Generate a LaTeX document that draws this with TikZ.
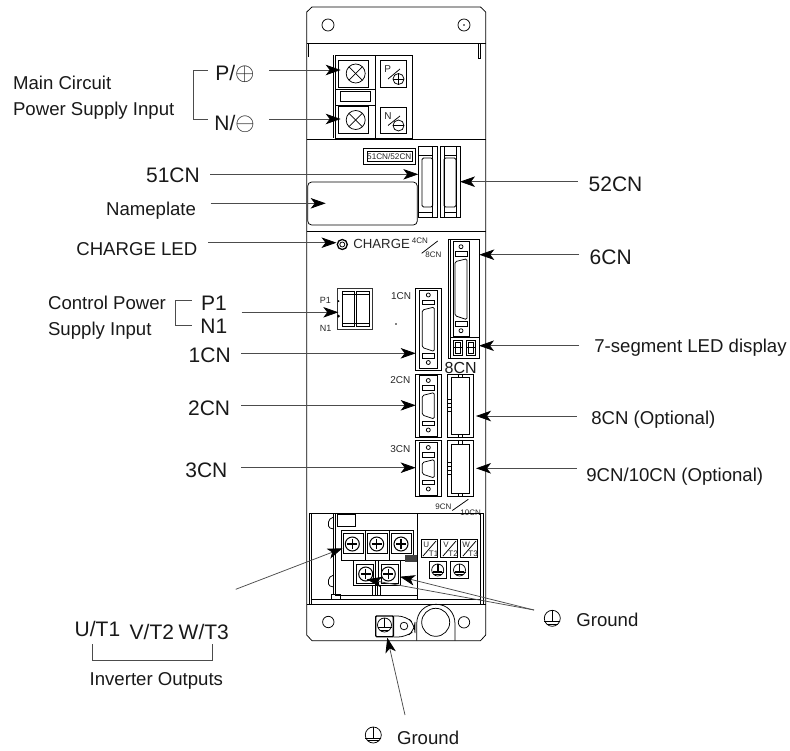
\documentclass[tikz,border=0pt]{standalone}
\usepackage{fontspec}
\setmainfont{Liberation Sans}
\usetikzlibrary{arrows.meta}

% x is the middle of the connector, #2 and #3 its top and bottom
\newcommand{\dsubconn}[3]{
	\draw ({#1},{#2+5}) circle[radius=2pt];
	\draw ({#1-6},{#2+10}) rectangle ({#1+6},{#2+14.5});
	\draw[rounded corners=1.5pt] ({#1-6},{#2+20}) -- ({#1+6},{#2+17}) -- ({#1+6},{#3-17}) -- ({#1-6},{#3-21}) -- cycle;
	\draw ({#1-6},{#3-15}) rectangle ({#1+6},{#3-10.5});
	\draw ({#1},{#3-6}) circle[radius=2pt];
}
\newcommand{\slotconn}[2]{
	\draw (447.7,#1) rectangle (473.3,#2);
	\draw (451.7,{#1+3.3}) rectangle (469.3,{#2-3.3});
	\draw (447.7,{(#1+#2)/2-6}) rectangle (451.7,{(#1+#2)/2+6});
	\draw (447.7,{(#1+#2)/2-2}) -- (451.7,{(#1+#2)/2-2});
	\draw (447.7,{(#1+#2)/2+2}) -- (451.7,{(#1+#2)/2+2});
	\draw (458.5,#1) rectangle (462.5,{#1+3.3});
	\draw (458.5,{#2-3.3}) rectangle (462.5,#2);
}
\newcommand{\screwx}[2]{
	\draw (#1,#2) circle[radius=9.5pt];
	\draw ({#1-6.6},{#2-6.6}) -- ({#1+6.6},{#2+6.6});
	\draw ({#1-6.6},{#2+6.6}) -- ({#1+6.6},{#2-6.6});
}
\newcommand{\screwplus}[2]{
	\draw[line width=1pt] (#1,#2) circle[radius=7pt];
	\draw[line width=1.3pt] ({#1-5},#2) -- ({#1+5},#2);
	\draw[line width=1.3pt] (#1,{#2-5}) -- (#1,{#2+5});
}
\newcommand{\groundmark}[3]{
	\draw (#1,#2) circle[radius=#3 pt];
	\draw (#1,{#2-#3}) -- (#1,{#2+0.4*#3});
	\draw ({#1-#3},{#2+0.4*#3}) -- ({#1+#3},{#2+0.4*#3});
	\draw ({#1-0.65*#3},{#2+0.7*#3}) -- ({#1+0.65*#3},{#2+0.7*#3});
}
\newcommand{\segdigit}[2]{
	\draw (#1,#2) rectangle ({#1+9},{#2+15});
	\draw (#1,{#2+7.5}) -- ({#1+9},{#2+7.5});
	\draw ({#1+2},{#2+2}) rectangle ({#1+7},{#2+13});
}

\begin{document}
\begin{tikzpicture}[x=1pt, y=-1pt, line width=0.75pt]

		\tikzstyle{edge} = [draw=black!70, -{Stealth[length=15pt, width=10.5pt, inset=4pt, black]}]
		\tikzstyle{wire} = [draw=black!70]
		\tikzstyle{lbl} = [inner sep=0, anchor=base west, text=black!90, font=\fontsize{18.6}{20}\selectfont]
		\tikzstyle{lbl_big} = [inner sep=0, anchor=base west, text=black!90, font=\fontsize{21}{23}\selectfont]
		\tikzstyle{lbl_mid} = [inner sep=0, anchor=base west, text=black!85, font=\fontsize{10}{11}\selectfont]
		\tikzstyle{lbl_tiny} = [inner sep=0, anchor=base west, text=black!85, font=\fontsize{8}{9}\selectfont]

		\useasboundingbox (0,0) rectangle (790,750);

		% housing
		\draw (306.7,12) -- (312,7) -- (480.5,7) -- (485.7,12) -- (485.7,635) -- (480.5,640.7) -- (312,640.7) -- (306.7,635) -- cycle;
		\draw (306.7,43) -- (485.7,43);
		\draw (306.7,139) -- (485.7,139);
		\draw (306.7,231.7) -- (485.7,231.7);
		\draw (306.7,604.3) -- (485.7,604.3);
		\draw (328,25) circle[radius=6pt];
		\draw (464,25) circle[radius=6pt];
		\fill (464,25) circle[radius=0.8pt];
		\draw (308.3,43) -- (308.3,57);
		\draw (478,43) rectangle (480.5,58);

		% main circuit terminals
		\draw (335,55) rectangle (412,138);
		\draw[line width=1.4pt] (333.7,55) -- (333.7,138);
		\draw (375,55) -- (375,138);
		\draw (338,60) rectangle (368,87);
		\draw (338,106.7) rectangle (368,133);
		\draw (335,89) -- (375,89);
		\draw (335,105) -- (375,105);
		\draw (340.7,91.7) rectangle (370.7,101.7);
		\screwx{355.7}{73.5}
		\screwx{355.7}{120}
		\draw (380.7,60) rectangle (406.7,87);
		\draw (380.7,107) rectangle (406.7,133);
		\node[lbl_mid](boxP) at (384,72){P};
		\node[lbl_mid](boxN) at (384,119){N};
		\draw (388,79) -- (400,69);
		\draw (388,125.5) -- (400,116);
		\node[circle, draw, inner sep=0, minimum size=11pt, path picture={\draw (path picture bounding box.west) -- (path picture bounding box.east); \draw (path picture bounding box.north) -- (path picture bounding box.south);}](boxPlus) at (398.5,79){};
		\node[circle, draw, inner sep=0, minimum size=11pt, path picture={\draw (path picture bounding box.west) -- (path picture bounding box.east);}](boxMinus) at (398.5,125.5){};

		% 51CN and 52CN
		\draw (363,148) rectangle (415,164.5);
		\draw (367,151) rectangle (412,161.5);
		\node[inner sep=0, text=black!85, font=\fontsize{8.2}{9}\selectfont](boxCn) at (389.3,156.3){51CN/52CN};
		\draw (418.3,146.7) rectangle (437.3,217);
		\draw (432.7,146.7) -- (432.7,217);
		\draw[rounded corners=1.5pt] (422,158) rectangle (432.7,207);
		\draw (418.3,155) -- (432.7,155);
		\draw (418.3,212) -- (432.7,212);
		\draw (440,146.7) rectangle (460,217);
		\draw (444,146.7) -- (444,217);
		\draw (456,146.7) -- (456,217);
		\draw[rounded corners=1.5pt] (444,158) rectangle (456,207);
		\draw (444,155) -- (456,155);
		\draw (444,212) -- (456,212);
		\draw[rounded corners=4pt] (307.7,182) rectangle (417.3,225);

		% charge led
		\draw[line width=1.3pt] (342.3,244.5) circle[radius=5pt];
		\draw (342.3,244.5) circle[radius=2.5pt];
		\node[inner sep=0, anchor=base west, text=black!85, font=\fontsize{13.2}{14}\selectfont](chargeTxt) at (353,248){CHARGE};
		\node[lbl_tiny](fourCn) at (411.5,243){4CN};
		\node[lbl_tiny](sixCn) at (425,257){8CN};
		\draw (421.7,253.3) -- (437.7,241);

		% 6CN and display
		\draw (448,239) rectangle (479,358);
		\draw (450,239) -- (450,358);
		\draw (453,241.7) rectangle (469,336.7);
		\dsubconn{461}{241.7}{336.7}
		\draw (450,337) -- (479,337);
		\segdigit{453.5}{340}
		\segdigit{466.5}{340}
		\node[inner sep=0, text=black!90, font=\fontsize{16}{17}\selectfont](bigCn) at (460.7,367.5){8CN};

		% control power terminal
		\draw[line width=1.3pt, draw=black!80] (337.7,288.3) rectangle (372.7,329.3);
		\draw (342.3,291) rectangle (354,326.7);
		\draw (356,291) rectangle (369,326.7);
		\draw (342.3,294) -- (369,294);
		\draw (342.3,323) -- (369,323);
		\node[lbl_mid, font=\fontsize{9}{10}\selectfont](smallP) at (319.5,303){P1};
		\node[lbl_mid, font=\fontsize{9}{10}\selectfont](smallN) at (319.5,331.5){N1};
		\fill (338.5,301) circle[radius=1pt];
		\fill (338.5,316) circle[radius=1.5pt];
		\fill (396,324) circle[radius=0.8pt];

		% 1CN 2CN 3CN
		\draw (415.7,288.3) rectangle (441.7,370);
		\draw (419.3,290) rectangle (437.7,368.5);
		\dsubconn{428.3}{290}{368.5}
		\node[lbl_mid](oneCn) at (390.7,299.5){1CN};
		\draw (415.7,374) rectangle (441.7,437.7);
		\draw (419.3,375.5) rectangle (437.7,436);
		\dsubconn{428.3}{375.5}{436}
		\node[lbl_mid](twoCn) at (390,383){2CN};
		\draw (415.7,440.7) rectangle (441.7,496.7);
		\draw (419.3,442.5) rectangle (437.7,495);
		\dsubconn{428.3}{442.5}{495}
		\node[lbl_mid](threeCn) at (390,452){3CN};

		% 8CN and 9CN slots
		\slotconn{374}{437.7}
		\slotconn{440.7}{496.7}
		\node[lbl_tiny](nineCn) at (435,509){9CN};
		\node[lbl_tiny](tenCn) at (460,515){10CN};
		\draw (452.3,510.5) -- (468.3,499.3);

		% inverter output section
		\draw (309,604.3) -- (309,513.3) -- (483.3,513.3) -- (483.3,604.3);
		\draw (311.7,513.3) -- (311.7,604.3);
		\draw (480.7,513.3) -- (480.7,604.3);
		\draw (417.7,513.3) -- (417.7,599);
		\draw (311.7,599.3) -- (480.7,599.3);
		\draw (335,595) -- (417.7,595);
		\draw (333.7,513.3) -- (333.7,595);
		\draw (335.5,513.3) -- (335.5,595);
		\draw (333.7,517) -- (330,519) -- (328.5,522) -- (328.5,526) -- (330,528) -- (333.7,529);
		\draw (333.7,575) -- (330,577) -- (328.5,580) -- (328.5,584) -- (330,586) -- (333.7,587);
		\draw (331.7,599.3) rectangle (340,594);
		\draw (337.7,514) rectangle (355,526.7);
		\draw (341.7,530) -- (413,530) -- (413,560) -- (341.7,560) -- cycle;
		\draw (343.3,533) rectangle (363.3,553.3);
		\draw (367.3,533) rectangle (387.3,553.3);
		\draw (391.7,533) rectangle (411.7,553.3);
		\draw (365.3,530) -- (365.3,560);
		\draw (389.5,530) -- (389.5,560);
		\screwplus{352.3}{544}
		\screwplus{376.7}{544}
		\screwplus{401}{544}
		\draw (353.3,560) rectangle (375,585);
		\draw (378.3,560) rectangle (400,585);
		\draw (356.5,564) rectangle (373,583);
		\draw (381,564) rectangle (398,583);
		\screwplus{365.7}{574}
		\screwplus{388.3}{574}
		\draw (372,585) rectangle (380,595);
		\draw (375,585) -- (375,595);
		\draw (377,585) -- (377,595);
		\fill[black!75] (405,555) rectangle (416.7,561.7);
		\draw (421,539.3) rectangle (437.7,557.3);
		\draw (440.7,539.3) rectangle (457.3,557.3);
		\draw (460.7,539.3) rectangle (477.3,557.3);
		\draw (423,556) -- (436,541);
		\draw (443,556) -- (456,541);
		\draw (463,556) -- (476,541);
		\node[lbl_tiny](boxU) at (423,547){U};
		\node[lbl_tiny](boxV) at (443,547){V};
		\node[lbl_tiny](boxW) at (462,547){W};
		\node[lbl_tiny](boxTa) at (428.5,556.5){T1};
		\node[lbl_tiny](boxTb) at (448,556.5){T2};
		\node[lbl_tiny](boxTc) at (468,556.5){T3};
		\draw (429.3,561.7) rectangle (446,578.3);
		\draw (450.7,561.7) rectangle (468.3,578.3);
		\groundmark{437.7}{570}{6}
		\groundmark{459.5}{570}{6}
		\draw[line width=1.6pt] (437.7,564) -- (437.7,572);
		\draw[line width=1.6pt] (433,572) -- (442.4,572);
		\draw[line width=1.6pt] (459.5,564) -- (459.5,572);
		\draw[line width=1.6pt] (454.8,572) -- (464.2,572);

		% bottom plate
		\draw (328.3,622) circle[radius=5.7pt];
		\draw (464,622.3) circle[radius=5.7pt];
		\draw (416.7,640.7) -- (416.7,624) .. controls (416.7,612) and (425,604.3) .. (436,604.3) .. controls (447,604.3) and (455,612) .. (455,624) -- (455,640.7);
		\draw (435.7,622.3) circle[radius=14pt];
		\draw[rounded corners=8pt] (393.3,616) -- (406,616) -- (415,625) -- (415,630) -- (406,637) -- (393.3,637);
		\draw (404,626) circle[radius=3.8pt];
		\draw[line width=1.4pt, rounded corners=1pt] (375.7,616) rectangle (393.3,636.7);
		\groundmark{384.5}{625}{7}

		% labels on the left
		\node[lbl](mainTxt) at (12.7,89.3){Main Circuit};
		\node[lbl](powerTxt) at (12.7,115){Power Supply Input};
		\node[lbl_big](pTxt) at (215,80){P/\scalebox{1.2}{$\oplus$}};
		\node[lbl_big](nTxt) at (214,130.5){N/\scalebox{1.2}{$\ominus$}};
		\node[lbl_big](cn51) at (145.7,182.7){51CN};
		\node[lbl](plateTxt) at (105.7,215){Nameplate};
		\node[lbl](ledTxt) at (76,255){CHARGE LED};
		\node[lbl](ctrlTxt) at (47.7,309){Control Power};
		\node[lbl](supplyTxt) at (47.7,335){Supply Input};
		\node[lbl_big](p1Txt) at (200.7,310){P1};
		\node[lbl_big](n1Txt) at (200,333.3){N1};
		\node[lbl_big](cn1) at (188.3,362.7){1CN};
		\node[lbl_big](cn2) at (187.7,415.7){2CN};
		\node[lbl_big](cn3) at (185,477.7){3CN};
		\node[lbl_big](uTxt) at (74.3,636.7){U/T1};
		\node[lbl_big](vTxt) at (129.3,639.3){V/T2};
		\node[lbl_big](wTxt) at (178.3,639.3){W/T3};
		\node[lbl](invTxt) at (89.3,685.7){Inverter Outputs};

		% labels on the right
		\node[lbl_big](cn52) at (588.3,191){52CN};
		\node[lbl_big](cn6) at (589.3,264){6CN};
		\node[lbl](segTxt) at (594,352.7){7-segment LED display};
		\node[lbl](cn8) at (591,424.3){8CN (Optional)};
		\node[lbl](cn9) at (586,481.7){9CN/10CN (Optional)};
		\node[lbl](gndA) at (576,626.7){Ground};
		\node[lbl](gndB) at (396.7,744.3){Ground};
		\groundmark{552.3}{618.3}{8}
		\groundmark{373.3}{735}{8}

		% brackets
		\coordinate (brMa) at (207.7,70);
		\coordinate (brMb) at (193.3,70);
		\coordinate (brMc) at (193.3,119);
		\coordinate (brMd) at (208.3,119);
		\coordinate (brCa) at (191.7,300.7);
		\coordinate (brCb) at (175.7,300.7);
		\coordinate (brCc) at (175.7,325.7);
		\coordinate (brCd) at (191.7,325.7);
		\coordinate (brIa) at (92.3,644.3);
		\coordinate (brIb) at (92.3,660.7);
		\coordinate (brIc) at (212.3,660.7);
		\coordinate (brId) at (212.3,644.3);
		\draw[wire] (brMa) -- (brMb) -- (brMc) -- (brMd);
		\draw[wire] (brCa) -- (brCb) -- (brCc) -- (brCd);
		\draw[wire] (brIa) -- (brIb) -- (brIc) -- (brId);

		% arrow ends
		\coordinate (pA) at (269,70);          \coordinate (pB) at (340.7,70);
		\coordinate (nA) at (269,119);         \coordinate (nB) at (340.7,119);
		\coordinate (c51A) at (210,174.3);     \coordinate (c51B) at (418.3,174.3);
		\coordinate (plateA) at (210.7,203.3); \coordinate (plateB) at (325.7,203.3);
		\coordinate (ledA) at (208.3,242.7);   \coordinate (ledB) at (336.5,242.7);
		\coordinate (ctrlA) at (241.7,312.3);  \coordinate (ctrlB) at (338.3,312.3);
		\coordinate (c1A) at (241,353.3);      \coordinate (c1B) at (415.7,353.3);
		\coordinate (c2A) at (241,405.3);      \coordinate (c2B) at (415.7,405.3);
		\coordinate (c3A) at (241,467.7);      \coordinate (c3B) at (415.7,467.7);
		\coordinate (c52A) at (577.7,181.7);   \coordinate (c52B) at (460,181.7);
		\coordinate (c6A) at (579,254.7);      \coordinate (c6B) at (479.3,254.7);
		\coordinate (segA) at (579,345.7);     \coordinate (segB) at (479,345.7);
		\coordinate (c8A) at (576.7,416);      \coordinate (c8B) at (476,416);
		\coordinate (c9A) at (576.7,468.3);    \coordinate (c9B) at (476,468.3);
		\coordinate (uA) at (235.7,589.3);     \coordinate (uB) at (342.5,548.3);
		\coordinate (gA) at (534,610);
		\coordinate (gB) at (366.7,579.3);
		\coordinate (gC) at (400,576.7);
		\coordinate (gD) at (405,715);         \coordinate (gE) at (387.3,637.7);

		\draw[edge] (pA) -- (pB);
		\draw[edge] (nA) -- (nB);
		\draw[edge] (c51A) -- (c51B);
		\draw[edge] (plateA) -- (plateB);
		\draw[edge] (ledA) -- (ledB);
		\draw[edge] (ctrlA) -- (ctrlB);
		\draw[edge] (c1A) -- (c1B);
		\draw[edge] (c2A) -- (c2B);
		\draw[edge] (c3A) -- (c3B);
		\draw[edge] (c52A) -- (c52B);
		\draw[edge] (c6A) -- (c6B);
		\draw[edge] (segA) -- (segB);
		\draw[edge] (c8A) -- (c8B);
		\draw[edge] (c9A) -- (c9B);
		\draw[edge] (uA) -- (uB);
		\draw[edge] (gA) -- (gB);
		\draw[edge] (gA) -- (gC);
		\draw[edge] (gD) -- (gE);

  \end{tikzpicture}
\end{document}
